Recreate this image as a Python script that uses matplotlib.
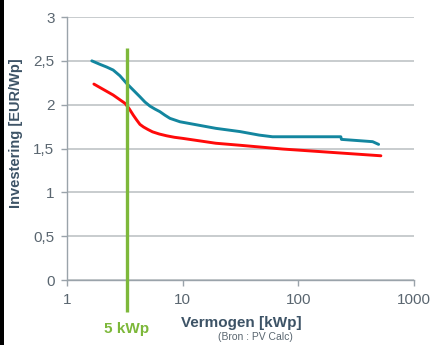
import matplotlib
matplotlib.use("Agg")
import matplotlib.pyplot as plt
from matplotlib.ticker import FixedLocator, FixedFormatter
from matplotlib.patches import Rectangle

plt.rcParams['font.family'] = ['Liberation Sans', 'DejaVu Sans']

# Investment cost per Wp versus installed power
blue_kwp = [1.64, 1.93, 2.20, 2.51, 2.87, 3.28, 3.75, 4.28, 4.73, 5.22, 5.77, 6.37,
            7.04, 7.78, 9.5, 19.4, 31.4, 46, 60, 234, 237, 441, 497]
blue_eur = [2.50, 2.46, 2.43, 2.395, 2.33, 2.243, 2.166, 2.09, 2.03, 1.984, 1.95, 1.92,
            1.88, 1.844, 1.805, 1.73, 1.693, 1.653, 1.634, 1.634, 1.604, 1.578, 1.547]

red_kwp = [1.71, 2.51, 3.18, 3.45, 3.75, 4.01, 4.28, 4.6, 5.0, 5.5, 6.3, 7.28, 8.5,
           10.1, 19.4, 31.4, 73.5, 520]
red_eur = [2.235, 2.11, 2.015, 1.955, 1.88, 1.825, 1.775, 1.745, 1.718, 1.69, 1.665,
           1.645, 1.628, 1.615, 1.56, 1.537, 1.494, 1.417]

marker_kwp = 3.28
marker_range = [-0.37, 2.65]
marker_label = "5 kWp"

y_ticks = [0, 0.5, 1, 1.5, 2, 2.5, 3]
y_labels = ["0", "0,5", "1", "1,5", "2", "2,5", "3"]
x_ticks = [1, 10, 100, 1000]
x_labels = ["1", "10", "100", "1000"]

tick_color = "#5A6670"
label_color = "#3D5366"
grid_color = "#BFC3C6"
green = "#7DB83A"

W, H = 432, 345
fig = plt.figure(figsize=(W / 100, H / 100), dpi=100)
ax = fig.add_axes([0.155, 0.1884, 0.8027, 0.7623])

ax.set_xscale("log")
ax.set_xlim(1, 1000)
ax.set_ylim(0, 3)

ax.yaxis.set_major_locator(FixedLocator(y_ticks))
ax.yaxis.set_major_formatter(FixedFormatter(y_labels))
ax.xaxis.set_major_locator(FixedLocator(x_ticks))
ax.xaxis.set_major_formatter(FixedFormatter(x_labels))
ax.xaxis.set_minor_locator(FixedLocator([]))

ax.grid(axis="y", color=grid_color, linewidth=1.2)
ax.set_axisbelow(True)
for side in ("top", "right"):
    ax.spines[side].set_visible(False)
for side in ("left", "bottom"):
    ax.spines[side].set_color("#9AA3AA")
    ax.spines[side].set_linewidth(1.0)

ax.tick_params(axis="both", colors="#9AA3AA", length=4, width=1.0,
               labelcolor=tick_color, labelsize=11)
ax.tick_params(axis="y", pad=5)
ax.tick_params(axis="x", pad=5)

ax.plot(blue_kwp, blue_eur, color="#13869F", linewidth=2.1,
        solid_capstyle="round", solid_joinstyle="round", zorder=3)
ax.plot(red_kwp, red_eur, color="#FF0A0A", linewidth=2.1,
        solid_capstyle="round", solid_joinstyle="round", zorder=3)

ax.plot([marker_kwp, marker_kwp], marker_range, color=green, linewidth=2.4,
        clip_on=False, zorder=4, solid_capstyle="butt")

fig.text(16 / W, 1 - 133 / H, "Investering [EUR/Wp]", rotation=90, fontsize=10.5,
         fontweight="bold", color=label_color, ha="center", va="center")
fig.text(241 / W, 1 - 326.7 / H, "Vermogen [kWp]", fontsize=11, fontweight="bold",
         color=label_color, ha="center", va="baseline")
fig.text(255 / W, 1 - 340.5 / H, "(Bron : PV Calc)", fontsize=7.5,
         color=tick_color, ha="center", va="baseline")
fig.text(126.5 / W, 1 - 333.3 / H, marker_label, fontsize=11, fontweight="bold",
         color=green, ha="center", va="baseline")

# dark strip along the left edge
fig.patches.append(Rectangle((0, 0), 3.5 / W, 1, transform=fig.transFigure,
                             facecolor="black", edgecolor="none"))

fig.savefig("out.png", dpi=100)
